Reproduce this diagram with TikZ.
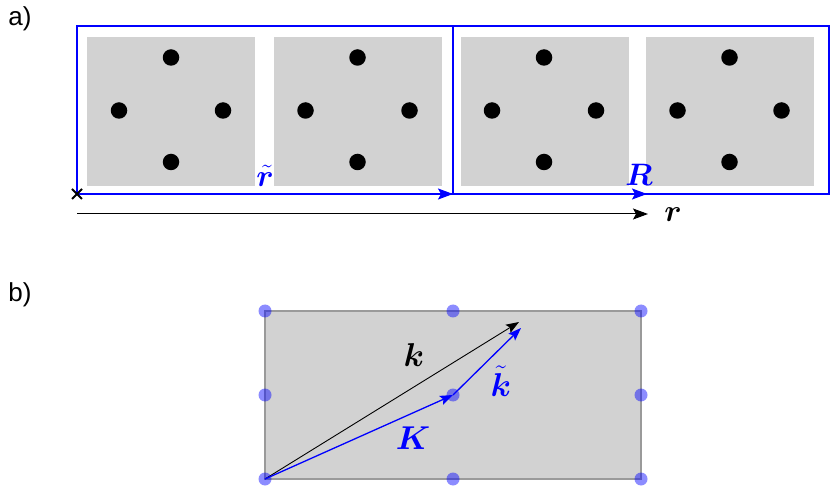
\RequirePackage{fix-cm}
\documentclass[tikz,border=0pt]{standalone}
\usepackage{fontspec}
\setmainfont{Liberation Sans}
\usepackage{amsmath}
\usepackage{bm}
\usetikzlibrary{arrows.meta}
\definecolor{cellgray}{HTML}{D2D2D2}
\definecolor{framegray}{HTML}{9A9A9A}
\begin{document}
\begin{tikzpicture}[x=1pt,y=-1pt,
  sq/.style={fill=cellgray,draw=none},
  dot/.style={circle,fill=black,inner sep=0pt,minimum size=16.5pt},
  bdot/.style={circle,fill=blue,fill opacity=0.45,inner sep=0pt,minimum size=13pt},
  cell/.style={draw=blue,line width=1.5pt},
  arrA/.style={-{Stealth[length=15pt,width=11pt,inset=3pt]}},
  arrB/.style={-{Stealth[length=13pt,width=9.5pt,inset=2.5pt]}},
  lbl/.style={font=\fontsize{26}{30}\selectfont},
  mlblA/.style={font=\fontsize{31}{36}\selectfont},
  mlblB/.style={font=\fontsize{33}{38}\selectfont}]
\useasboundingbox (0,0) rectangle (830,486);

% panel labels
\node[lbl] (la) at (20,19) {a)};
\node[lbl] (lb) at (20,295) {b)};

% gray cells with dots
\foreach \l/\c [count=\i] in {87/171, 274/357.5, 461/544, 646/729.5}{
  \fill[sq] (\l,37) rectangle ++(168,149);
  \node[dot] (t\i) at (\c,57.5) {};
  \node[dot] (w\i) at (\c-52,110.5) {};
  \node[dot] (e\i) at (\c+52,110.5) {};
  \node[dot] (s\i) at (\c,162) {};
}

% blue unit cells
\draw[cell] (77,26) rectangle (453,194);
\draw[cell] (453,26) rectangle (829,194);

% coordinates
\coordinate (o) at (77,194);
\coordinate (m) at (453,194);
\coordinate (Re) at (647,194);
\coordinate (ro) at (77,214);
\coordinate (re) at (648,214);

% arrows
\draw[blue,line width=1.5pt,arrA] (o) -- (m);
\draw[blue,line width=1.5pt,arrA] (m) -- (Re);
\draw[black,line width=1pt,arrA] (ro) -- (re);
\draw[line width=2pt] ([shift={(-5,-5)}]o) -- ([shift={(5,5)}]o)
                      ([shift={(-5,5)}]o) -- ([shift={(5,-5)}]o);

\node[mlblA,text=blue] (lrt) at (265,176) {$\bm{\tilde r}$};
\node[mlblA,text=blue] (lR) at (639,175) {$\bm{R}$};
\node[mlblA] (lr) at (673,215) {$\bm{r}$};

% panel b
\draw[fill=cellgray,draw=framegray,line width=1.2pt] (265,311) rectangle (641,479);
\foreach \x/\y [count=\j] in {265/311,453/311,641/311,265/395,453/395,641/395,265/479,453/479,641/479}{
  \node[bdot] (g\j) at (\x,\y) {};
}
\coordinate (kt) at (519,322);
\coordinate (ktt) at (521,328);
\draw[black,line width=0.9pt,arrB] (g7.center) -- (kt);
\draw[blue,line width=1.3pt,arrB] (g7.center) -- (g5.center);
\draw[blue,line width=1.3pt,arrB] (g5.center) -- (ktt);

\node[mlblB] (lk) at (414,355) {$\bm{k}$};
\node[mlblB,text=blue] (lK) at (413,438) {$\bm{K}$};
\node[mlblB,text=blue] (lkt) at (501,381) {$\bm{\tilde k}$};
\end{tikzpicture}
\end{document}
